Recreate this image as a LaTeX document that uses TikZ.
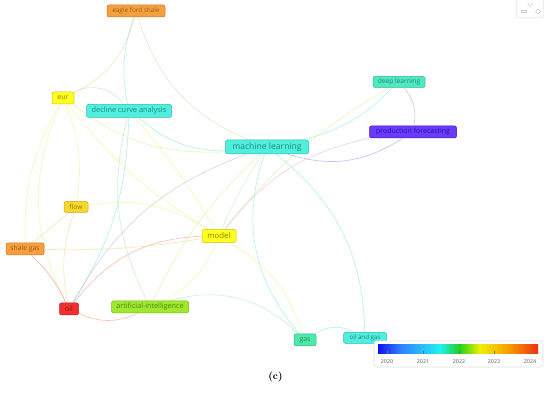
\documentclass[tikz,border=0pt]{standalone}
\usepackage{fontspec}
\setsansfont{Open Sans}
\usetikzlibrary{backgrounds}
\definecolor{fOrange}{HTML}{F5A040}
\definecolor{dOrange}{HTML}{C87820}
\definecolor{tOrange}{HTML}{A05A10}
\definecolor{fYellow}{HTML}{FFFF20}
\definecolor{dYellow}{HTML}{D0C400}
\definecolor{tYellow}{HTML}{8C8000}
\definecolor{fGold}{HTML}{F5D830}
\definecolor{dGold}{HTML}{C8AA10}
\definecolor{fTeal}{HTML}{50EEDC}
\definecolor{dTeal}{HTML}{30BEB0}
\definecolor{tTeal}{HTML}{208A80}
\definecolor{fMint}{HTML}{50E8BE}
\definecolor{dMint}{HTML}{30BA90}
\definecolor{fPurple}{HTML}{6A3CFA}
\definecolor{dPurple}{HTML}{3A18C0}
\definecolor{tPurple}{HTML}{2A10A0}
\definecolor{fRed}{HTML}{F03030}
\definecolor{dRed}{HTML}{C01818}
\definecolor{tRed}{HTML}{901010}
\definecolor{fLime}{HTML}{A0E830}
\definecolor{dLime}{HTML}{78B818}
\definecolor{tLime}{HTML}{4E8A10}
\definecolor{fGreen}{HTML}{50E8A8}
\definecolor{dGreen}{HTML}{30B880}
\definecolor{tGreen}{HTML}{208A60}
% edge colours
\definecolor{eOrY}{HTML}{F0D080}
\definecolor{eTan}{HTML}{D8D0A0}
\definecolor{eTeal}{HTML}{70E8DC}
\definecolor{eGreen}{HTML}{A0E8A0}
\definecolor{eYG}{HTML}{D0EE80}
\definecolor{eYel}{HTML}{F0F080}
\definecolor{eBlue}{HTML}{8090F8}
\definecolor{ePurp}{HTML}{A898F0}
\definecolor{ePink}{HTML}{E0B0C0}
\definecolor{eGray}{HTML}{C0B0B8}
\definecolor{eOr}{HTML}{F09060}
\definecolor{eRed}{HTML}{F07060}
\definecolor{eTY}{HTML}{B0EEB0}
\tikzset{
  kw/.style={rounded corners=2pt, inner sep=0pt, line width=0.5pt, font=\sffamily},
  lk/.style={line width=0.6pt, draw opacity=0.55},
  barlabel/.style={font=\sffamily\fontsize{5.3}{6}\selectfont, text=black!65, inner sep=0pt}
}
\begin{document}
\begin{tikzpicture}[x=1pt,y=1pt]
\useasboundingbox (0,0) rectangle (550,398);
% nodes
\node[kw, fill=fOrange, draw=dOrange, text=tOrange, minimum width=58pt, minimum height=12pt, font=\sffamily\fontsize{6.4}{7}\selectfont] (efs) at (136,387) {eagle ford shale};
\node[kw, fill=fYellow, draw=dYellow, text=tYellow, minimum width=22pt, minimum height=12pt, font=\sffamily\fontsize{7}{8}\selectfont] (eur) at (63,300) {eur};
\node[kw, fill=fTeal, draw=dTeal, text=tTeal, minimum width=85pt, minimum height=13pt, font=\sffamily\fontsize{7.4}{8}\selectfont] (dca) at (129,287) {decline curve analysis};
\node[kw, fill=fTeal, draw=dTeal, text=tTeal, minimum width=83pt, minimum height=14pt, font=\sffamily\fontsize{8.6}{9}\selectfont] (ml) at (267,251) {machine learning};
\node[kw, fill=fMint, draw=dMint, text=tTeal, minimum width=52pt, minimum height=11pt, font=\sffamily\fontsize{6.6}{7}\selectfont] (dl) at (399,316) {deep learning};
\node[kw, fill=fPurple, draw=dPurple, text=tPurple, minimum width=87pt, minimum height=12pt, font=\sffamily\fontsize{7}{8}\selectfont] (pf) at (413,266) {production forecasting};
\node[kw, fill=fGold, draw=dGold, text=tYellow, minimum width=24pt, minimum height=11pt, font=\sffamily\fontsize{6.8}{7}\selectfont] (flow) at (76,191) {flow};
\node[kw, fill=fYellow, draw=dYellow, text=tYellow, minimum width=34pt, minimum height=13pt, font=\sffamily\fontsize{7.8}{8}\selectfont] (model) at (219,162) {model};
\node[kw, fill=fOrange, draw=dOrange, text=tOrange, minimum width=38pt, minimum height=12pt, font=\sffamily\fontsize{6.8}{7}\selectfont] (sg) at (25,149) {shale gas};
\node[kw, fill=fRed, draw=dRed, text=tRed, minimum width=19pt, minimum height=12pt, font=\sffamily\fontsize{7}{8}\selectfont] (oil) at (69,89) {oil};
\node[kw, fill=fLime, draw=dLime, text=tLime, minimum width=77pt, minimum height=12pt, font=\sffamily\fontsize{7.2}{8}\selectfont] (ai) at (150,91) {artificial-intelligence};
\node[kw, fill=fGreen, draw=dGreen, text=tGreen, minimum width=22pt, minimum height=12pt, font=\sffamily\fontsize{6.8}{7}\selectfont] (gas) at (305,58) {gas};
\node[kw, fill=fTeal, draw=dTeal, text=tTeal, minimum width=43pt, minimum height=11pt, font=\sffamily\fontsize{6.2}{7}\selectfont] (oag) at (365,60) {oil and gas};
% edges
\begin{scope}[on background layer]
\fill[white] (0,0) rectangle (550,398);
\draw[lk, draw=eOrY] (efs) to[bend left=25] (eur);
\draw[lk, draw=eTan] (efs) to[bend right=25] (ml);
\draw[lk, draw=eTeal] (efs) to[bend right=15] (dca);
\draw[lk, draw=eGreen] (eur) to[bend left=40] (dca);
\draw[lk, draw=eTeal] (dca) to[bend right=20] (ml);
\draw[lk, draw=eYG] (eur) to[bend right=20] (ml);
\draw[lk, draw=eYel] (dca) to[bend left=5] (model);
\draw[lk, draw=eGreen] (dca) to[bend right=20] (ai);
\draw[lk, draw=eTeal] (dca) to[bend left=15] (oil);
\draw[lk, draw=eYel] (eur) to[bend left=15] (flow);
\draw[lk, draw=eYel] (eur) to[bend right=15] (sg);
\draw[lk, draw=eYel] (eur) to[bend right=25] (oil);
\draw[lk, draw=eYel] (eur) to[bend right=10] (model);
\draw[lk, draw=eTeal] (ml) to[bend right=15] (dl);
\draw[lk, draw=eYG] (model) to[bend left=10] (dl);
\draw[lk, draw=eBlue] (ml) to[bend right=25] (pf);
\draw[lk, draw=ePurp] (dl) to[bend left=25] (pf);
\draw[lk, draw=ePink] (model) to[bend left=20] (pf);
\draw[lk, draw=eGray] (oil) to[bend left=20] (ml);
\draw[lk, draw=eTY] (ml) to[bend right=5] (model);
\draw[lk, draw=eTeal] (ml) to[bend right=30] (gas);
\draw[lk, draw=eTeal] (ml) to[bend left=25] (oag);
\draw[lk, draw=eYG] (ai) to[bend left=10] (ml);
\draw[lk, draw=eOrY] (sg) to[bend right=5] (model);
\draw[lk, draw=eYel] (flow) to[bend left=20] (model);
\draw[lk, draw=eOr] (oil) to[bend left=25] (model);
\draw[lk, draw=eYel] (model) to[bend left=20] (gas);
\draw[lk, draw=eYel] (model) to[bend left=20] (ai);
\draw[lk, draw=eGreen] (ai) to[bend left=30] (gas);
\draw[lk, draw=eOr] (oil) to[bend right=25] (ai);
\draw[lk, draw=eTeal] (gas) to[bend left=30] (oag);
\draw[lk, draw=eRed] (sg) to[bend left=10] (oil);
\draw[lk, draw=eOrY] (flow) to[bend right=15] (oil);
\draw[lk, draw=eOrY] (flow) to (sg);
\end{scope}
% colour bar
\draw[black!12, line width=0.6pt, rounded corners=3pt, fill=white] (374,31) rectangle (543,57);
\shade[left color={rgb,255:red,16;green,16;blue,240}, right color={rgb,255:red,48;green,128;blue,255}] (378,44) rectangle (400,53);
\shade[left color={rgb,255:red,48;green,128;blue,255}, right color={rgb,255:red,32;green,240;blue,240}] (400,44) rectangle (440,53);
\shade[left color={rgb,255:red,32;green,240;blue,240}, right color={rgb,255:red,32;green,208;blue,32}] (440,44) rectangle (459,53);
\shade[left color={rgb,255:red,32;green,208;blue,32}, right color={rgb,255:red,240;green,240;blue,0}] (459,44) rectangle (480,53);
\shade[left color={rgb,255:red,240;green,240;blue,0}, right color={rgb,255:red,245;green,160;blue,0}] (480,44) rectangle (508,53);
\shade[left color={rgb,255:red,245;green,160;blue,0}, right color={rgb,255:red,240;green,48;blue,16}] (508,44) rectangle (538,53);
\foreach \x/\yr in {387/2020,423/2021,459/2022,494/2023,530/2024}{
  \draw[black!55, line width=0.4pt] (\x,44) -- (\x,46.5);
  \node[barlabel] (yr\yr) at (\x,36.5) {\yr};
}
% top-right control icon
\draw[black!15, line width=0.5pt, rounded corners=2pt] (516,400) -- (516,380) -- (543,380) -- (543,400);
\draw[black!20, line width=0.4pt] (527.5,395) -- (532.5,395) -- (530,391) -- cycle;
\draw[black!20, line width=0.4pt] (521,385.5) rectangle (526,387.5);
\draw[black!20, line width=0.4pt] (538,389) -- (540.5,386.5) -- (538,384) -- (535.5,386.5) -- cycle;
% caption
\node[font=\bfseries\fontsize{10}{12}\selectfont, inner sep=0pt] (cap) at (275.5,21) {(c)};
\end{tikzpicture}
\end{document}
